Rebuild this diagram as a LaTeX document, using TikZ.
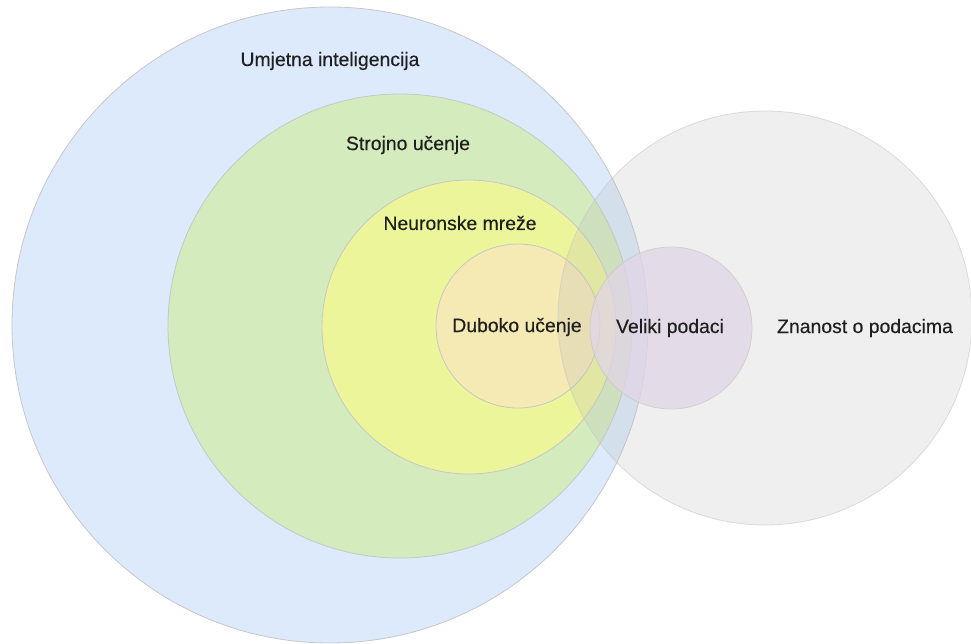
\documentclass[tikz,border=0pt]{standalone}
\usepackage{fontspec}
\setmainfont{Liberation Sans}
\newfontfamily\vennfont{Liberation Sans}[FakeBold=0.3]
\usepackage{tikz}
\usetikzlibrary{positioning}

\definecolor{aiblue}{HTML}{DCEAFC}
\definecolor{mlgreen}{HTML}{D4EBBD}
\definecolor{nnyellow}{HTML}{EDF59A}
\definecolor{dlorange}{HTML}{F5E9B4}
\definecolor{bdpurple}{HTML}{E1D5E7}
\definecolor{dsgray}{HTML}{BFBFBF}

\begin{document}
\begin{tikzpicture}[x=1pt, y=-1pt,
  venn/.style={circle, draw=black!22, line width=0.8pt, inner sep=0pt},
  lbl/.style={font=\vennfont\fontsize{19.4}{23}\selectfont, text=black!88, inner sep=0pt}]
 \useasboundingbox (0,0) rectangle (971,643);
 \node[venn, fill=aiblue, minimum size=636pt] (ai) at (330,325) {};
 \node[venn, fill=mlgreen, minimum size=464pt] (ml) at (400,326) {};
 \node[venn, fill=nnyellow, minimum size=294pt] (nn) at (469,327) {};
 \node[venn, fill=dlorange, minimum size=164pt] (dl) at (518,326) {};
 \node[venn, fill=dsgray, fill opacity=0.25, draw opacity=0.6, minimum size=414pt] (ds) at (765,318) {};
 \node[venn, fill=bdpurple, fill opacity=0.75, draw opacity=0.7, minimum size=162pt] (bd) at (671,328) {};
 \node[lbl] (aitext) at (330,61) {Umjetna inteligencija};
 \node[lbl] (mltext) at (408,145) {Strojno učenje};
 \node[lbl] (nntext) at (460,223) {Neuronske mreže};
 \node[lbl] (dltext) at (517,327) {Duboko učenje};
 \node[lbl] (bdtext) at (670,328) {Veliki podaci};
 \node[lbl] (dstext) at (865,328) {Znanost o podacima};
\end{tikzpicture}
\end{document}
